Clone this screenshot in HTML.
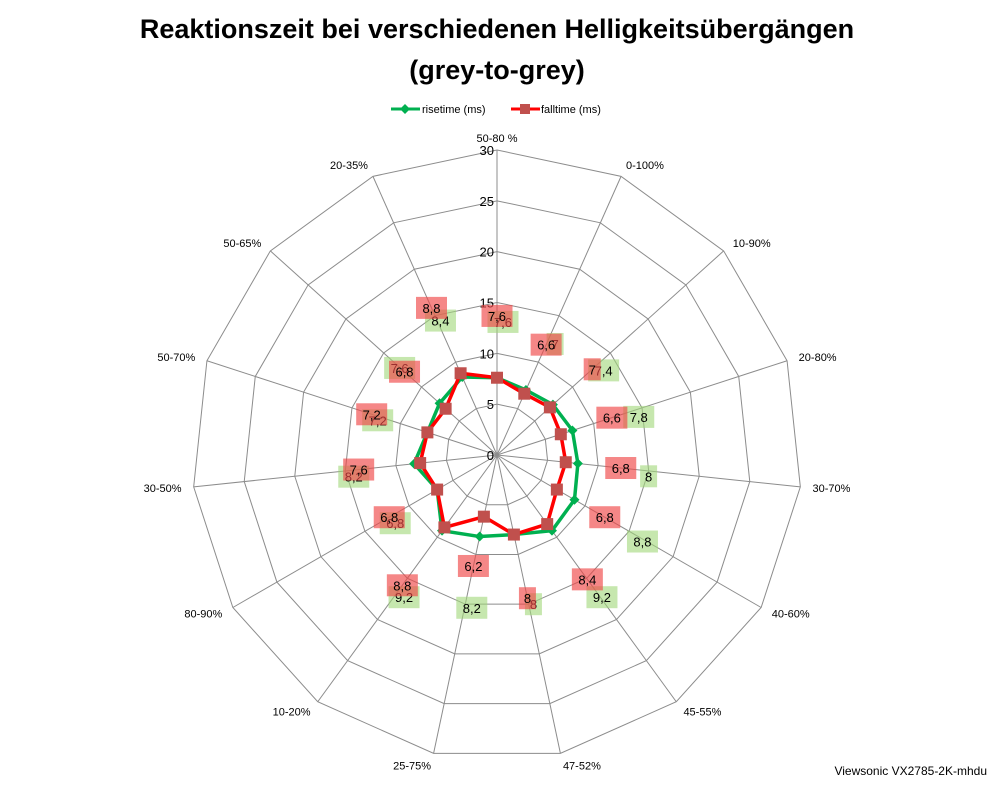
<!DOCTYPE html>
<html><head><meta charset="utf-8">
<style>
body{margin:0;background:#fff;width:998px;height:786px;overflow:hidden;font-family:"Liberation Sans",sans-serif;}
</style></head>
<body>
<svg id="chart" width="998" height="786" xmlns="http://www.w3.org/2000/svg" font-family="Liberation Sans, sans-serif">
<text x="497" y="38" text-anchor="middle" font-size="27" font-weight="bold">Reaktionszeit bei verschiedenen Helligkeitsübergängen</text>
<text x="497" y="79" text-anchor="middle" font-size="27" font-weight="bold">(grey-to-grey)</text>
<g>
<g>
<line x1="391" y1="109" x2="420" y2="109" stroke="#00b050" stroke-width="3"/>
<polygon points="405,104 410,109 405,114 400,109" fill="#00b050"/>
<text x="422" y="113" font-size="11">risetime (ms)</text></g>
<g>
<line x1="511" y1="109" x2="540" y2="109" stroke="#ff0000" stroke-width="3"/>
<rect x="520" y="104" width="10" height="10" fill="#c0504d"/>
<text x="541" y="113" font-size="11">falltime (ms)</text></g>
</g>
<g id="grid"></g><g id="series"></g><g id="labels"></g>
<text x="987" y="775" text-anchor="end" font-size="12">Viewsonic VX2785-2K-mhdu</text>
</svg>
<script>
const categories=["50-80 %","0-100%","10-90%","20-80%","30-70%","40-60%","45-55%","47-52%","25-75%","10-20%","80-90%","30-50%","50-70%","50-65%","20-35%"];
const risetime=[7.6,7,7.4,7.8,8,8.8,9.2,8,8.2,9.2,6.8,8.2,7.2,7.6,8.4];
const falltime=[7.6,6.6,7,6.6,6.8,6.8,8.4,8,6.2,8.8,6.8,7.6,7.2,6.8,8.8];
const ticks=[0,5,10,15,20,25,30];
const NS="http://www.w3.org/2000/svg";
const cx=497,cy=455,R=305,maxV=30;
const n=categories.length;
function ang(i){return (i*360/n)*Math.PI/180;}
function pt(i,v){const r=v/maxV*R;return [cx+r*Math.sin(ang(i)),cy-r*Math.cos(ang(i))];}
function mk(tag,attrs,parent){const e=document.createElementNS(NS,tag);for(const k in attrs)e.setAttribute(k,attrs[k]);parent.appendChild(e);return e;}
const grid=document.getElementById('grid'),ser=document.getElementById('series'),lab=document.getElementById('labels');
ticks.forEach(t=>{if(t===0)return;
 const p=categories.map((c,i)=>pt(i,t).join(',')).join(' ');
 const g=mk('polygon',{points:p,fill:'none',stroke:'#8c8c8c','stroke-width':1},grid);
 
 
});
categories.forEach((c,i)=>{
 const [x,y]=pt(i,maxV);
 const l=mk('line',{x1:cx,y1:cy,x2:x,y2:y,stroke:'#8c8c8c','stroke-width':1},grid);
 
 
 const [lx,ly]=pt(i,maxV+1.2);
 const s=Math.sin(ang(i));
 const anchor=Math.abs(s)<0.1?'middle':(s>0?'start':'end');
 const t=mk('text',{x:lx,y:ly+4,'text-anchor':anchor,'font-size':11},grid);
 t.textContent=c;
 
 
});
ticks.forEach(t=>{
 const [x,y]=pt(0,t);
 const e=mk('text',{x:x-3,y:y+5,'text-anchor':'end','font-size':13},grid);
 e.textContent=t;
 
 
});
function drawSeries(vals,color,name,marker){
 const p=vals.map((v,i)=>pt(i,v).join(',')).join(' ');
 const pl=mk('polygon',{points:p,fill:'none',stroke:color,'stroke-width':3.5,'stroke-linejoin':'round'},ser);
 
 
 vals.forEach((v,i)=>{const [x,y]=pt(i,v);let m;
  if(marker==='d'){m=mk('polygon',{points:`${x},${y-5} ${x+5},${y} ${x},${y+5} ${x-5},${y}`,fill:'#00b050'},ser);}
  else{m=mk('rect',{x:x-6,y:y-6,width:12,height:12,fill:'#c0504d'},ser);}
  
  
 });
}
drawSeries(risetime,'#00b050','risetime','d');
drawSeries(falltime,'#ff0000','falltime','s');
function fmt(v){return String(v).replace('.',',');}
function drawLabels(vals,bg,name,dx,dy){
 vals.forEach((v,i)=>{const [x,y]=pt(i,v*1.8);
  const txt=fmt(v);const w=txt.length*7+10;
  const r=mk('rect',{x:x-w/2+dx,y:y-11+dy,width:w,height:22,fill:bg},lab);
  
  
  const t=mk('text',{x:x+dx,y:y+5+dy,'text-anchor':'middle','font-size':13,fill:'#000'},lab);
  t.textContent=txt;
  
  
 });
}
drawLabels(risetime,'rgba(160,215,120,0.6)','risetime',6,6);
drawLabels(falltime,'rgba(240,70,70,0.65)','falltime',0,0);
</script>
</body></html>
